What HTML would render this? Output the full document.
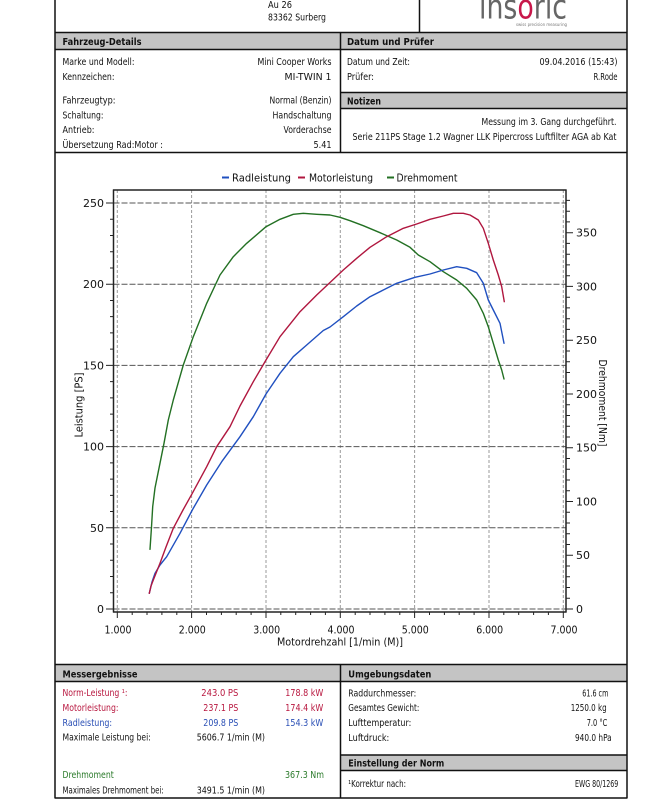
<!DOCTYPE html>
<html><head><meta charset="utf-8"><style>
html,body{margin:0;padding:0;background:#fff;width:655px;height:800px;overflow:hidden}
svg{display:block}
text{font-family:"DejaVu Sans","Liberation Sans",sans-serif}
</style></head><body>
<svg width="655" height="800" viewBox="0 0 655 800" xmlns="http://www.w3.org/2000/svg">
<rect width="655" height="800" fill="#fff"/>

<!-- gray bars -->
<g fill="#c4c4c4">
<rect x="55" y="33" width="285" height="16"/>
<rect x="341" y="33" width="286" height="16"/>
<rect x="341" y="93" width="286" height="15"/>
<rect x="55" y="665" width="285" height="16"/>
<rect x="341" y="665" width="286" height="16"/>
<rect x="341" y="755.5" width="286" height="15"/>
</g>

<!-- frame lines -->
<g stroke="#111" stroke-width="1.5" fill="none">
<line x1="55" y1="0" x2="55" y2="798.5"/>
<line x1="627" y1="0" x2="627" y2="798.5"/>
<line x1="419.5" y1="0" x2="419.5" y2="32.5"/>
<line x1="55" y1="32.5" x2="627" y2="32.5"/>
<line x1="55" y1="49.5" x2="627" y2="49.5"/>
<line x1="340.5" y1="32.5" x2="340.5" y2="152.5"/>
<line x1="341" y1="92.5" x2="627" y2="92.5"/>
<line x1="341" y1="108.5" x2="627" y2="108.5"/>
<line x1="55" y1="152.5" x2="627" y2="152.5"/>
<line x1="55" y1="664.5" x2="627" y2="664.5"/>
<line x1="55" y1="681.5" x2="627" y2="681.5"/>
<line x1="340.5" y1="664.5" x2="340.5" y2="798"/>
<line x1="341" y1="755" x2="627" y2="755"/>
<line x1="341" y1="770.5" x2="627" y2="770.5"/>
<line x1="55" y1="798" x2="627" y2="798"/>
</g>

<!-- header -->
<g font-size="9.5" fill="#111">
<text x="268" y="8" textLength="24" lengthAdjust="spacingAndGlyphs">Au 26</text>
<text x="268" y="20.5" textLength="58" lengthAdjust="spacingAndGlyphs">83362 Surberg</text>
</g>
<text x="479" y="18.5" font-size="34" fill="#666" textLength="88" lengthAdjust="spacingAndGlyphs">ins<tspan fill="#c8174a">o</tspan>ric</text>
<text x="516" y="26" font-size="4.5" fill="#777" textLength="51" lengthAdjust="spacingAndGlyphs">swiss precision measuring</text>

<!-- section headers -->
<g font-size="9.5" font-weight="bold" fill="#111">
<text x="62.5" y="45" textLength="79" lengthAdjust="spacingAndGlyphs">Fahrzeug-Details</text>
<text x="347" y="45" textLength="87" lengthAdjust="spacingAndGlyphs">Datum und Prüfer</text>
<text x="347" y="104.5" textLength="34" lengthAdjust="spacingAndGlyphs">Notizen</text>
<text x="62.5" y="677.5" textLength="75" lengthAdjust="spacingAndGlyphs">Messergebnisse</text>
<text x="348.3" y="677.5" textLength="83" lengthAdjust="spacingAndGlyphs">Umgebungsdaten</text>
<text x="348.3" y="766.5" textLength="96" lengthAdjust="spacingAndGlyphs">Einstellung der Norm</text>
</g>

<!-- details text -->
<g font-size="9.3" fill="#111">
<text x="62.5" y="65" textLength="72" lengthAdjust="spacingAndGlyphs">Marke und Modell:</text>
<text x="62.5" y="80" textLength="52" lengthAdjust="spacingAndGlyphs">Kennzeichen:</text>
<text x="62.5" y="103.5" textLength="53" lengthAdjust="spacingAndGlyphs">Fahrzeugtyp:</text>
<text x="62.5" y="118.5" textLength="41" lengthAdjust="spacingAndGlyphs">Schaltung:</text>
<text x="62.5" y="133" textLength="32" lengthAdjust="spacingAndGlyphs">Antrieb:</text>
<text x="62.5" y="148" textLength="100.5" lengthAdjust="spacingAndGlyphs">Übersetzung Rad:Motor :</text>
<g text-anchor="end">
<text x="331.5" y="65" textLength="74" lengthAdjust="spacingAndGlyphs">Mini Cooper Works</text>
<text x="331.5" y="80" textLength="47" lengthAdjust="spacingAndGlyphs">MI-TWIN 1</text>
<text x="331.5" y="103.5" textLength="62" lengthAdjust="spacingAndGlyphs">Normal (Benzin)</text>
<text x="331.5" y="118.5" textLength="59" lengthAdjust="spacingAndGlyphs">Handschaltung</text>
<text x="331.5" y="133" textLength="48" lengthAdjust="spacingAndGlyphs">Vorderachse</text>
<text x="331.5" y="148" textLength="18" lengthAdjust="spacingAndGlyphs">5.41</text>
<text x="617.5" y="65" textLength="78" lengthAdjust="spacingAndGlyphs">09.04.2016 (15:43)</text>
<text x="617.5" y="80" textLength="24" lengthAdjust="spacingAndGlyphs">R.Rode</text>
<text x="616.5" y="125" textLength="135" lengthAdjust="spacingAndGlyphs">Messung im 3. Gang durchgeführt.</text>
<text x="616.5" y="140" textLength="264" lengthAdjust="spacingAndGlyphs">Serie 211PS Stage 1.2 Wagner LLK Pipercross Luftfilter AGA ab Kat</text>
</g>
<text x="347" y="65" textLength="63" lengthAdjust="spacingAndGlyphs">Datum und Zeit:</text>
<text x="347" y="80" textLength="27" lengthAdjust="spacingAndGlyphs">Prüfer:</text>
</g>

<!-- legend -->
<g stroke-width="2">
<line x1="222" y1="177.5" x2="229" y2="177.5" stroke="#2050c0"/>
<line x1="298" y1="177.5" x2="305" y2="177.5" stroke="#b0173f"/>
<line x1="387" y1="177.5" x2="394" y2="177.5" stroke="#237023"/>
</g>
<g font-size="11" fill="#111">
<text x="232" y="181.5" textLength="59" lengthAdjust="spacingAndGlyphs">Radleistung</text>
<text x="309" y="181.5" textLength="64" lengthAdjust="spacingAndGlyphs">Motorleistung</text>
<text x="396.5" y="181.5" textLength="61" lengthAdjust="spacingAndGlyphs">Drehmoment</text>
</g>

<!-- grid -->
<g stroke="#9a9a9a" stroke-width="1" stroke-dasharray="3,2" fill="none">
<line x1="117.3" y1="190" x2="117.3" y2="612"/>
<line x1="191.6" y1="190" x2="191.6" y2="612"/>
<line x1="266" y1="190" x2="266" y2="612"/>
<line x1="340.3" y1="190" x2="340.3" y2="612"/>
<line x1="414.6" y1="190" x2="414.6" y2="612"/>
<line x1="489" y1="190" x2="489" y2="612"/>
<line x1="563.3" y1="190" x2="563.3" y2="612"/>
</g>
<g stroke="#555" stroke-width="1" stroke-dasharray="6,2" fill="none">
<line x1="113.5" y1="609" x2="566" y2="609"/>
<line x1="113.5" y1="527.8" x2="566" y2="527.8"/>
<line x1="113.5" y1="446.6" x2="566" y2="446.6"/>
<line x1="113.5" y1="365.4" x2="566" y2="365.4"/>
<line x1="113.5" y1="284.2" x2="566" y2="284.2"/>
<line x1="113.5" y1="203" x2="566" y2="203"/>
</g>

<!-- plot frame -->
<g stroke="#222" stroke-width="1.5" fill="none">
<line x1="113.5" y1="189.5" x2="113.5" y2="612.5"/>
<line x1="566" y1="189.5" x2="566" y2="612.5"/>
<line x1="113" y1="190" x2="566.5" y2="190"/>
<line x1="113" y1="612" x2="566.5" y2="612"/>
</g>

<!-- ticks -->
<g stroke="#222" stroke-width="1" fill="none">
<path d="M117.3 612v6M191.6 612v6M266 612v6M340.3 612v6M414.6 612v6M489 612v6M563.3 612v6"/>
<path d="M132.2 612v3M147 612v3M161.9 612v3M176.8 612v3M206.5 612v3M221.4 612v3M236.2 612v3M251.1 612v3M280.8 612v3M295.7 612v3M310.6 612v3M325.4 612v3M355.2 612v3M370 612v3M384.9 612v3M399.8 612v3M429.5 612v3M444.4 612v3M459.2 612v3M474.1 612v3M503.8 612v3M518.7 612v3M533.6 612v3M548.4 612v3"/>
<path d="M106 609h7.5M106 527.8h7.5M106 446.6h7.5M106 365.4h7.5M106 284.2h7.5M106 203h7.5"/>
<path d="M110 592.76h3.5M110 576.52h3.5M110 560.28h3.5M110 544.04h3.5M110 511.56h3.5M110 495.32h3.5M110 479.08h3.5M110 462.84h3.5M110 430.36h3.5M110 414.12h3.5M110 397.88h3.5M110 381.64h3.5M110 349.16h3.5M110 332.92h3.5M110 316.68h3.5M110 300.44h3.5M110 267.96h3.5M110 251.72h3.5M110 235.48h3.5M110 219.24h3.5"/>
<path d="M566 609h7M566 555.2h7M566 501.5h7M566 447.7h7M566 394h7M566 340.2h7M566 286.4h7M566 232.7h7"/>
<path d="M566 598.2h4M566 587.5h4M566 576.7h4M566 566h4M566 544.5h4M566 533.7h4M566 523h4M566 512.2h4M566 490.7h4M566 480h4M566 469.2h4M566 458.5h4M566 437h4M566 426.2h4M566 415.5h4M566 404.7h4M566 383.2h4M566 372.5h4M566 361.7h4M566 351h4M566 329.4h4M566 318.7h4M566 307.9h4M566 297.2h4M566 275.7h4M566 264.9h4M566 254.2h4M566 243.4h4M566 221.9h4M566 211.2h4M566 200.4h4"/>
</g>

<!-- tick labels -->
<g font-size="11" fill="#111">
<g text-anchor="end">
<text x="104" y="613">0</text>
<text x="104" y="531.8">50</text>
<text x="104" y="450.6">100</text>
<text x="104" y="369.4">150</text>
<text x="104" y="288.2">200</text>
<text x="104" y="207">250</text>
</g>
<text x="576" y="613">0</text>
<text x="576" y="559.2">50</text>
<text x="576" y="505.5">100</text>
<text x="576" y="451.7">150</text>
<text x="576" y="398">200</text>
<text x="576" y="344.2">250</text>
<text x="576" y="290.4">300</text>
<text x="576" y="236.7">350</text>
<g text-anchor="middle">
<text x="118" y="633.5" textLength="27" lengthAdjust="spacingAndGlyphs">1.000</text>
<text x="192.3" y="633.5" textLength="27" lengthAdjust="spacingAndGlyphs">2.000</text>
<text x="266.7" y="633.5" textLength="27" lengthAdjust="spacingAndGlyphs">3.000</text>
<text x="341" y="633.5" textLength="27" lengthAdjust="spacingAndGlyphs">4.000</text>
<text x="415.3" y="633.5" textLength="27" lengthAdjust="spacingAndGlyphs">5.000</text>
<text x="489.7" y="633.5" textLength="27" lengthAdjust="spacingAndGlyphs">6.000</text>
<text x="564" y="633.5" textLength="27" lengthAdjust="spacingAndGlyphs">7.000</text>
<text x="340" y="645.5" textLength="126" lengthAdjust="spacingAndGlyphs">Motordrehzahl [1/min (M)]</text>
</g>
<text transform="translate(82.5,405) rotate(-90)" text-anchor="middle" textLength="65" lengthAdjust="spacingAndGlyphs">Leistung [PS]</text>
<text transform="translate(599,403) rotate(90)" text-anchor="middle" textLength="87" lengthAdjust="spacingAndGlyphs">Drehmoment [Nm]</text>
</g>

<!-- curves -->
<g fill="none" stroke-width="1.4" stroke-linejoin="round" stroke-linecap="round">
<polyline stroke="#237023" points="150,549.3 151.5,527 152.7,506.7 155,488 159.3,466.7 164,443.3 168.3,420 173.3,400 183.3,365 193.3,336.7 206.7,303.3 220,275 233.3,256.7 246.7,243.3 266,226.7 280,219.3 293.3,214.3 303.3,213.3 316.7,214.3 330,215 340,217.3 350,220.7 363.3,225.7 380,232.7 396.7,240 410,247.3 418.3,255 430,261.7 443.3,271.7 456.7,280 466.7,288.3 476.7,300 483.3,313.3 488.3,326.7 493.3,343.3 498.3,360 501.7,370 504,379"/>
<polyline stroke="#2050c0" points="149.3,593.3 152,582 155,573.3 160,565 166.7,556.7 180,533.3 192.3,510 206.7,485 221.7,461.7 240,436.7 253.3,416.7 266,394 280,373.3 293.3,356.7 306.7,345 323.3,330.5 330,327 343.3,316.7 356.7,306 370,296.7 383.3,290 396.7,283.3 415,277.3 430,274 443.3,270 456.7,266.7 466.7,268.3 476.7,272.7 483.3,283.3 488.3,300 493.3,310 500,323.3 504,343.3"/>
<polyline stroke="#b0173f" points="149.3,593.3 151,586 153.3,580 160,563.3 166,547 173.3,528.3 183,510 192.3,493.3 206.7,466.7 216.7,446.7 230,426.7 240,406 253.3,381.7 266,360 280,336.7 300,311.7 316.7,295 330,282.5 343.3,270 356.7,258.3 370,247.3 386.7,236.7 403.3,228.3 416.7,224 430,219.3 443.3,216 453.3,213.3 463.3,213.3 470,215 478.3,220 483.3,228.3 488.3,243.3 493.3,260 498.3,275 501.7,286.7 504.3,301.7"/>
</g>

<!-- results -->
<g font-size="9.3">
<g fill="#b8173f">
<text x="62.5" y="696" textLength="65" lengthAdjust="spacingAndGlyphs">Norm-Leistung ¹:</text>
<text x="62.5" y="711" textLength="56" lengthAdjust="spacingAndGlyphs">Motorleistung:</text>
<text x="238.3" y="696" text-anchor="end" textLength="37" lengthAdjust="spacingAndGlyphs">243.0 PS</text>
<text x="323.3" y="696" text-anchor="end" textLength="38" lengthAdjust="spacingAndGlyphs">178.8 kW</text>
<text x="238.3" y="711" text-anchor="end" textLength="35" lengthAdjust="spacingAndGlyphs">237.1 PS</text>
<text x="323.3" y="711" text-anchor="end" textLength="38" lengthAdjust="spacingAndGlyphs">174.4 kW</text>
</g>
<g fill="#2a4fb5">
<text x="62.5" y="726" textLength="49.6" lengthAdjust="spacingAndGlyphs">Radleistung:</text>
<text x="238.3" y="726" text-anchor="end" textLength="35" lengthAdjust="spacingAndGlyphs">209.8 PS</text>
<text x="323.3" y="726" text-anchor="end" textLength="38" lengthAdjust="spacingAndGlyphs">154.3 kW</text>
</g>
<g fill="#2a7a2a">
<text x="62.5" y="778" textLength="51.3" lengthAdjust="spacingAndGlyphs">Drehmoment</text>
<text x="324" y="778" text-anchor="end" textLength="39" lengthAdjust="spacingAndGlyphs">367.3 Nm</text>
</g>
<g fill="#111">
<text x="62.5" y="740.5" textLength="88.3" lengthAdjust="spacingAndGlyphs">Maximale Leistung bei:</text>
<text x="196.7" y="740.5" textLength="68.3" lengthAdjust="spacingAndGlyphs">5606.7 1/min (M)</text>
<text x="62.5" y="793.5" textLength="101.3" lengthAdjust="spacingAndGlyphs">Maximales Drehmoment bei:</text>
<text x="196.7" y="793.5" textLength="68.3" lengthAdjust="spacingAndGlyphs">3491.5 1/min (M)</text>
<text x="348.3" y="696.5" textLength="68" lengthAdjust="spacingAndGlyphs">Raddurchmesser:</text>
<text x="348.3" y="711" textLength="71" lengthAdjust="spacingAndGlyphs">Gesamtes Gewicht:</text>
<text x="348.3" y="726" textLength="63" lengthAdjust="spacingAndGlyphs">Lufttemperatur:</text>
<text x="348.3" y="741" textLength="41" lengthAdjust="spacingAndGlyphs">Luftdruck:</text>
<text x="348.3" y="787" textLength="57.7" lengthAdjust="spacingAndGlyphs">¹Korrektur nach:</text>
<g text-anchor="end">
<text x="608.3" y="696.5" textLength="26" lengthAdjust="spacingAndGlyphs">61.6 cm</text>
<text x="606.7" y="711" textLength="36" lengthAdjust="spacingAndGlyphs">1250.0 kg</text>
<text x="607.3" y="726" textLength="20.6" lengthAdjust="spacingAndGlyphs">7.0 °C</text>
<text x="611.7" y="741" textLength="36.7" lengthAdjust="spacingAndGlyphs">940.0 hPa</text>
<text x="618.3" y="787" textLength="43.3" lengthAdjust="spacingAndGlyphs">EWG 80/1269</text>
</g>
</g>
</g>
</svg>
</body></html>
